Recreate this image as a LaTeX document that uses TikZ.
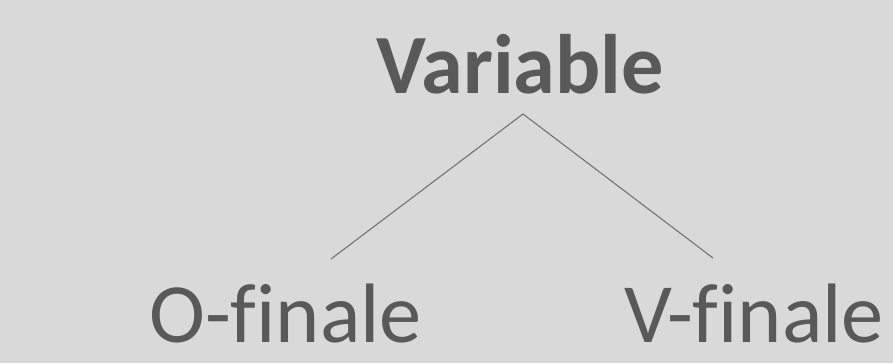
\documentclass[tikz,border=0pt]{standalone}
\usepackage{fontspec}
\setmainfont{Carlito}[Ligatures=NoCommon]
\usetikzlibrary{positioning}
\definecolor{bggray}{HTML}{D9D9D9}
\definecolor{txtgray}{HTML}{595959}
\definecolor{linegray}{HTML}{707070}
\tikzset{
	label text/.style={text=txtgray, anchor=base, inner sep=0pt, font=\fontsize{48}{50}\selectfont},
	branch/.style={line width=0.6pt, color=linegray}
}
\begin{document}
\begin{tikzpicture}[x=0.02cm, y=-0.02cm]
		%%%%% START %%%%%
		
		\fill[bggray] (0, 0) rectangle (893, 363);
		\useasboundingbox (0, 0) rectangle (893, 363);
		
		\node[label text, font=\fontsize{48}{50}\selectfont\bfseries] (variable) at (520, 93) {Variable};
		\node[label text] (ofinale) at (286, 342) {O-finale};
		\node[label text] (vfinale) at (754, 342) {V-finale};
		
		\coordinate (apex) at (523, 114);
		\coordinate (oend) at (331, 259);
		\coordinate (vend) at (713, 258);
		
		\draw[branch] (oend) -- (apex) -- (vend);
		
		%%%%% END %%%%%
\end{tikzpicture}
\end{document}
